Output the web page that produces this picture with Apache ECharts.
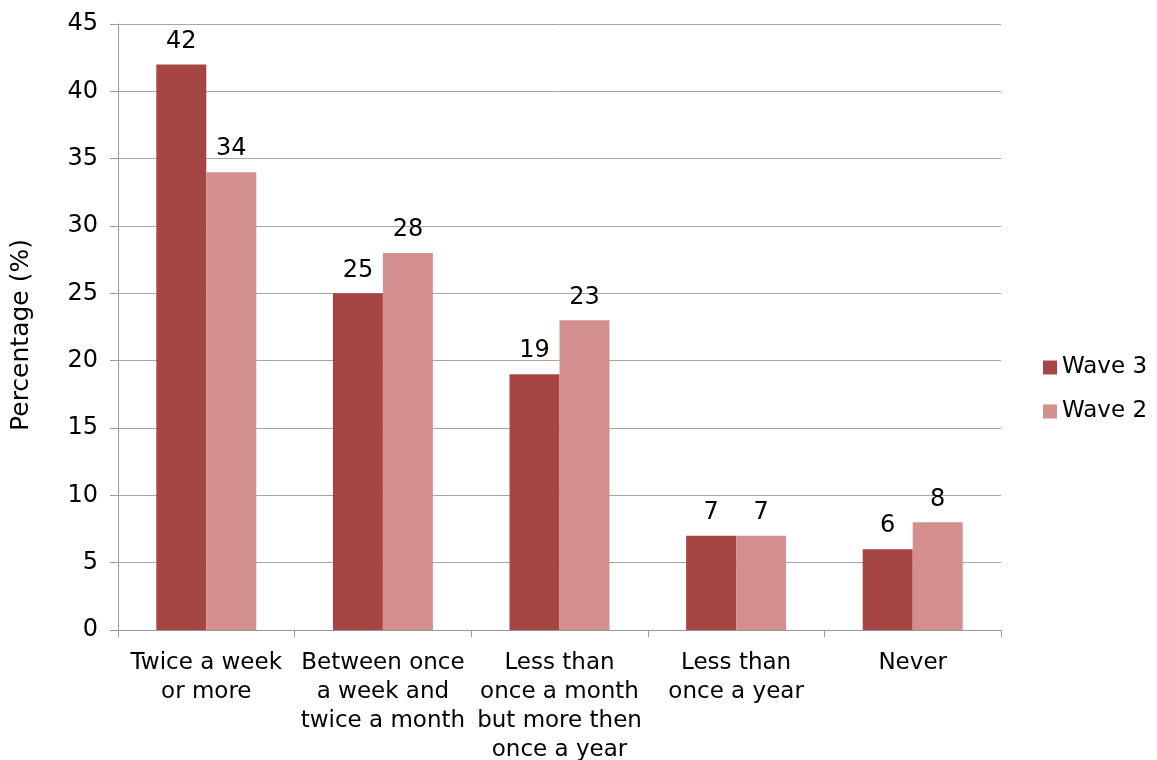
<!DOCTYPE html>
<html>
<head>
<meta charset="utf-8">
<script src="https://cdn.jsdelivr.net/npm/echarts@6/dist/echarts.min.js"></script>
<style>
  html, body { margin: 0; padding: 0; background: #ffffff; }
  #chart { width: 1157px; height: 760px; }
</style>
</head>
<body>
<div id="chart"></div>
<script>
// Frequency categories (line breaks as shown under the axis)
const categories = [
  'Twice a week\nor more',
  'Between once\na week and\ntwice a month',
  'Less than\nonce a month\nbut more then\nonce a year',
  'Less than\nonce a year',
  'Never'
];
const wave3 = [42, 25, 19, 7, 6];
const wave2 = [34, 28, 23, 7, 8];
const yTicks = { min: 0, max: 45, interval: 5 };

const FONT = '"DejaVu Sans", Verdana, sans-serif';
const chart = echarts.init(document.getElementById('chart'), null, { renderer: 'canvas' });

const labelStyle = {
  show: true,
  position: 'top',
  distance: 11,
  color: '#000',
  fontFamily: FONT,
  fontSize: 24
};

chart.setOption({
  animation: false,
  backgroundColor: '#ffffff',
  grid: { left: 118, right: 156, top: 24, bottom: 130, containLabel: false, outerBoundsMode: 'none' },
  legend: {
    orient: 'vertical',
    left: 1038,
    top: 351,
    itemWidth: 14,
    itemHeight: 14,
    itemGap: 21,
    icon: 'rect',
    textStyle: { fontFamily: FONT, fontSize: 23, color: '#000' },
    data: ['Wave 3', 'Wave 2']
  },
  xAxis: {
    type: 'category',
    data: categories,
    axisLine: { lineStyle: { color: '#999999', width: 1 } },
    axisTick: { show: true, length: 7, alignWithLabel: false, lineStyle: { color: '#999999' } },
    axisLabel: {
      interval: 0,
      margin: 19,
      color: '#000',
      fontFamily: FONT,
      fontSize: 23,
      lineHeight: 29
    }
  },
  yAxis: {
    type: 'value',
    min: yTicks.min,
    max: yTicks.max,
    interval: yTicks.interval,
    name: 'Percentage (%)',
    nameLocation: 'middle',
    nameGap: 84,
    nameRotate: 90,
    nameTextStyle: { fontFamily: FONT, fontSize: 25, color: '#000', padding: [0, 16, 0, 0] },
    axisLine: { show: true, lineStyle: { color: '#999999', width: 1 } },
    axisTick: { show: true, length: 8, lineStyle: { color: '#999999' } },
    axisLabel: { margin: 20, color: '#000', fontFamily: FONT, fontSize: 24 },
    splitLine: { show: true, lineStyle: { color: '#a6a6a6', width: 1 } }
  },
  series: [
    {
      name: 'Wave 3',
      type: 'bar',
      data: wave3,
      barWidth: 50,
      barGap: '0%',
      itemStyle: { color: '#A64644' },
      label: labelStyle
    },
    {
      name: 'Wave 2',
      type: 'bar',
      data: wave2,
      barWidth: 50,
      itemStyle: { color: '#D38F8E' },
      label: labelStyle
    }
  ]
});
</script>
</body>
</html>
